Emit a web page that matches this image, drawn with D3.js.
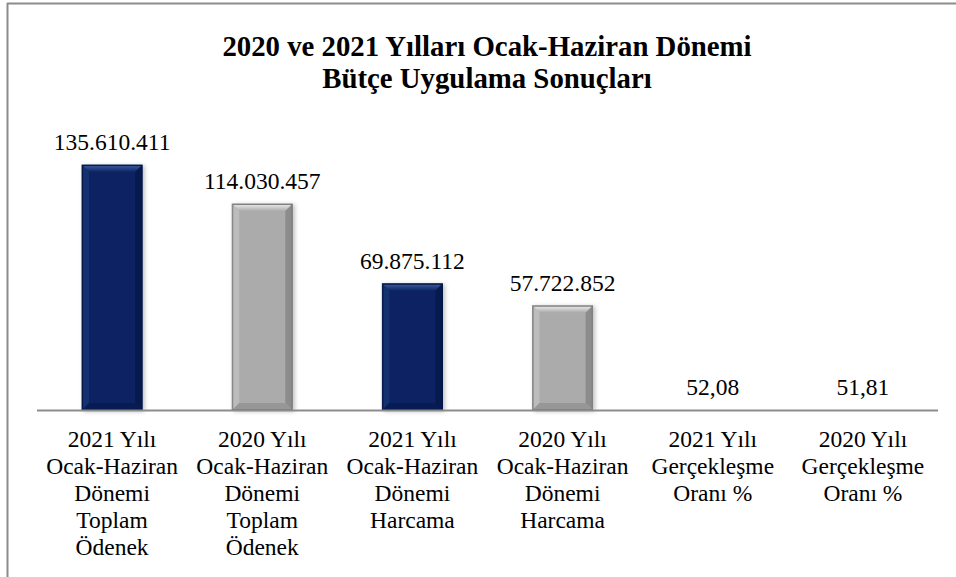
<!DOCTYPE html>
<html>
<head>
<meta charset="utf-8">
<script src="https://cdn.jsdelivr.net/npm/d3@7"></script>
<style>
  html, body { margin: 0; padding: 0; background: #fff; }
  svg { display: block; }
  svg text { font-family: "Liberation Serif", "Times New Roman", Times, "DejaVu Serif", serif; fill: #000; }
</style>
</head>
<body>
<svg id="chart" width="956" height="577"></svg>
<script>
// chart data
const titleLines = ["2020 ve 2021 Yılları Ocak-Haziran Dönemi", "Bütçe Uygulama Sonuçları"];
const categories = [
  ["2021 Yılı", "Ocak-Haziran", "Dönemi", "Toplam", "Ödenek"],
  ["2020 Yılı", "Ocak-Haziran", "Dönemi", "Toplam", "Ödenek"],
  ["2021 Yılı", "Ocak-Haziran", "Dönemi", "Harcama"],
  ["2020 Yılı", "Ocak-Haziran", "Dönemi", "Harcama"],
  ["2021 Yılı", "Gerçekleşme", "Oranı %"],
  ["2020 Yılı", "Gerçekleşme", "Oranı %"]
];
const values = [135610411, 114030457, 69875112, 57722852, 52.08, 51.81];
const years = ["2021", "2020", "2021", "2020", "2021", "2020"];

const palette = {
  "2021": { main: "#0b2462", top: "#3d5da3", left: "#13306f", right: "#061a4e", bottom: "#071c52", edge: "#051645" },
  "2020": { main: "#ababab", top: "#ececec", left: "#bcbcbc", right: "#8c8c8c", bottom: "#979797", edge: "#7d7d7d" }
};

const trLocale = d3.formatLocale({ decimal: ",", thousands: ".", grouping: [3], currency: ["", "₺"] });
const fmtInt = trLocale.format(",d");
const fmtDec = trLocale.format(",.2f");

const svg = d3.select("#chart");

// frame (only top and left edges visible in the crop)
svg.append("line").attr("x1", 7).attr("x2", 956).attr("y1", 3.5).attr("y2", 3.5)
  .attr("stroke", "#8c8c8c").attr("stroke-width", 2);
svg.append("line").attr("x1", 7.5).attr("x2", 7.5).attr("y1", 3).attr("y2", 577)
  .attr("stroke", "#8c8c8c").attr("stroke-width", 2);

// title
svg.append("text")
  .attr("x", 487).attr("y", 56)
  .attr("text-anchor", "middle")
  .style("font-weight", "bold").style("font-size", "28.8px")
  .selectAll("tspan").data(titleLines).enter().append("tspan")
  .attr("x", 487).attr("dy", (d, i) => i === 0 ? 0 : 32)
  .text(d => d);

const x = d3.scaleBand()
  .domain(d3.range(values.length))
  .range([37, 938])
  .paddingInner(0.6)
  .paddingOuter(0.3);

const y = d3.scaleLinear()
  .domain([0, 160000000])
  .range([410, 121]);

const defs = svg.append("defs");
const shadow = defs.append("filter").attr("id", "shadow")
  .attr("x", "-20%").attr("y", "-20%").attr("width", "140%").attr("height", "140%");
shadow.append("feDropShadow").attr("dx", 2).attr("dy", 1).attr("stdDeviation", 2)
  .attr("flood-color", "#000").attr("flood-opacity", 0.25);

Object.keys(palette).forEach(k => {
  const g = defs.append("linearGradient").attr("id", "top" + k)
    .attr("x1", 0).attr("y1", 0).attr("x2", 0).attr("y2", 1);
  g.append("stop").attr("offset", "0%").attr("stop-color", palette[k].top);
  g.append("stop").attr("offset", "100%").attr("stop-color", palette[k].main);
});

const bars = svg.append("g").selectAll("g.bar")
  .data(values).enter().append("g").attr("class", "bar");

bars.each(function (v, i) {
  const g = d3.select(this);
  const c = palette[years[i]];
  const bx = x(i), bw = x.bandwidth();
  const by = y(v), bh = y(0) - y(v);
  if (bh < 0.5) return;
  const b = Math.min(7, bh / 2, bw / 2);
  g.append("rect").attr("x", bx).attr("y", by).attr("width", bw).attr("height", bh)
    .attr("fill", c.main).attr("stroke", c.edge).attr("stroke-width", 1)
    .attr("filter", "url(#shadow)");
  const poly = (pts, fill) => g.append("polygon")
    .attr("points", pts.map(p => p.join(",")).join(" ")).attr("fill", fill);
  poly([[bx, by], [bx + bw, by], [bx + bw - b, by + b], [bx + b, by + b]], "url(#top" + years[i] + ")");
  poly([[bx, by], [bx + b, by + b], [bx + b, by + bh - b], [bx, by + bh]], c.left);
  poly([[bx + bw, by], [bx + bw - b, by + b], [bx + bw - b, by + bh - b], [bx + bw, by + bh]], c.right);
  poly([[bx, by + bh], [bx + b, by + bh - b], [bx + bw - b, by + bh - b], [bx + bw, by + bh]], c.bottom);
  g.append("rect").attr("x", bx + 0.5).attr("y", by + 0.5).attr("width", bw - 1).attr("height", bh - 1)
    .attr("fill", "none").attr("stroke", c.edge).attr("stroke-width", 1);
});

// axis line
svg.append("line")
  .attr("x1", x.range()[0]).attr("x2", x.range()[1])
  .attr("y1", y(0) + 0.5).attr("y2", y(0) + 0.5)
  .attr("stroke", "#8c8c8c").attr("stroke-width", 2);

// value labels
svg.append("g").selectAll("text")
  .data(values).enter().append("text")
  .attr("x", (d, i) => x(i) + x.bandwidth() / 2)
  .attr("y", d => y(d) - 15)
  .attr("text-anchor", "middle")
  .style("font-size", "23.5px")
  .text(d => d >= 1000 ? fmtInt(d) : fmtDec(d));

// category labels
const catText = svg.append("g").selectAll("text")
  .data(categories).enter().append("text")
  .attr("text-anchor", "middle")
  .style("font-size", "23.5px");
catText.each(function (lines, i) {
  const cx = x(i) + x.bandwidth() / 2;
  d3.select(this).selectAll("tspan").data(lines).enter().append("tspan")
    .attr("x", cx)
    .attr("y", (d, j) => 447 + j * 27)
    .text(d => d);
});
</script>
</body>
</html>
